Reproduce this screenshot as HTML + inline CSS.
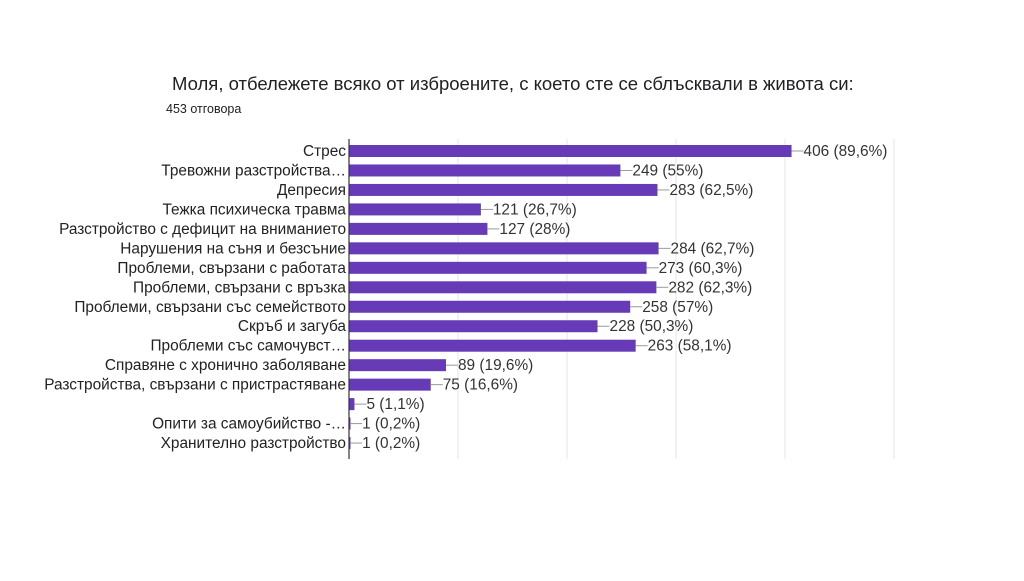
<!DOCTYPE html>
<html><head><meta charset="utf-8"><style>
body{margin:0;background:#fff;width:1024px;height:576px;overflow:hidden;font-family:"Liberation Sans",sans-serif;}
</style></head><body>
<svg width="1024" height="576" id="c">
<text x="172" y="90" font-size="18.5" fill="#202124">Моля, отбележете всяко от изброените, с което сте се сблъсквали в живота си:</text>
<text x="166" y="113" font-size="12.5" fill="#202124">453 отговора</text>
</svg>
<script>
const categories=["Стрес","Тревожни разстройства…","Депресия","Тежка психическа травма","Разстройство с дефицит на вниманието","Нарушения на съня и безсъние","Проблеми, свързани с работата","Проблеми, свързани с връзка","Проблеми, свързани със семейството","Скръб и загуба","Проблеми със самочувст…","Справяне с хронично заболяване","Разстройства, свързани с пристрастяване","","Опити за самоубийство -…","Хранително разстройство"];
const values=[406,249,283,121,127,284,273,282,258,228,263,89,75,5,1,1];
const labels=["406 (89,6%)","249 (55%)","283 (62,5%)","121 (26,7%)","127 (28%)","284 (62,7%)","273 (60,3%)","282 (62,3%)","258 (57%)","228 (50,3%)","263 (58,1%)","89 (19,6%)","75 (16,6%)","5 (1,1%)","1 (0,2%)","1 (0,2%)"];
const gridTicks=[100,200,300,400,500];
const svg=document.getElementById('c');const NS="http://www.w3.org/2000/svg";
const x0=349,k=1.09,y0=151,step=19.47,bh=12;
const X=v=>x0+v*k, Y=i=>y0+i*step;
function mk(t,a){const e=document.createElementNS(NS,t);for(const n in a)e.setAttribute(n,a[n]);svg.appendChild(e);return e;}
gridTicks.forEach(t=>{const g=mk('line',{x1:X(t),x2:X(t),y1:139,y2:459,stroke:'#e6e6e6','stroke-width':1});

});
values.forEach((v,i)=>{
const r=mk('rect',{x:x0,y:Y(i)-bh/2,width:Math.max(v*k,1.5),height:bh,fill:'#673ab7'});


const l=mk('line',{x1:X(v),x2:X(v)+12,y1:Y(i),y2:Y(i),stroke:'#999','stroke-width':1});


const t=mk('text',{x:X(v)+12,y:Y(i)+5,'font-size':15.4,fill:'#333'});t.textContent=labels[i];


const c=mk('text',{x:346,y:Y(i)+5,'font-size':15.4,fill:'#222','text-anchor':'end'});c.textContent=categories[i];


});
const ax=mk('line',{x1:x0,x2:x0,y1:139,y2:459,stroke:'#333','stroke-width':1.2});


</script>
</body></html>
